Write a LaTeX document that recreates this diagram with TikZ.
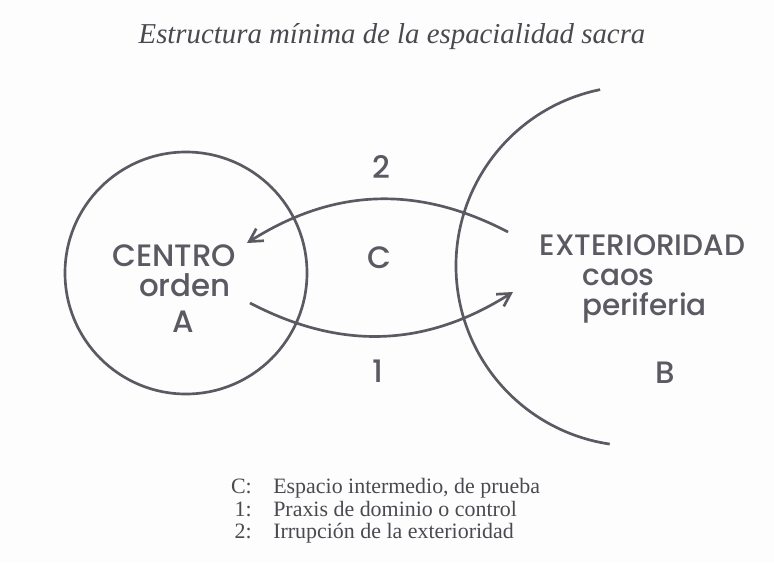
\documentclass[tikz,border=0pt]{standalone}
\usepackage{fontspec}
\setmainfont{Liberation Serif}
\setsansfont{Poppins}[UprightFont={* Medium}]
\usepackage{tikz}
\usetikzlibrary{arrows.meta, positioning, calc}
\definecolor{spInk}{HTML}{5B5962}
\definecolor{spText}{HTML}{4A4950}
\definecolor{spPaper}{HTML}{FDFDFD}

\begin{document}
\begin{tikzpicture}[
  font=\sffamily,
  every node/.style={text=spInk},
  lbl/.style={font=\sffamily\fontsize{22}{24}\selectfont, inner sep=0pt, anchor=base},
  lblsm/.style={font=\sffamily\fontsize{21}{22}\selectfont, inner sep=0pt, anchor=base},
  ring/.style={draw=spInk, line width=1.9pt, circle, inner sep=0pt, minimum size=6.05cm},
  flow/.style={draw=spInk, line width=1.9pt, -{Straight Barb[length=3.2mm, width=3.6mm]}},
  key/.style={text=spText, font=\rmfamily\fontsize{15.6}{17}\selectfont, inner sep=0pt, anchor=base east},
  keytxt/.style={text=spText, font=\rmfamily\fontsize{15.6}{17}\selectfont, inner sep=0pt, anchor=base west},
]
% ---------------- Marco ----------------
\fill[spPaper] (0,0) rectangle (19.35,14.075);
\useasboundingbox (0,0) rectangle (19.35,14.075);

% ---------------- Título ----------------
\node[inner sep=0pt, anchor=base, text=spText, font=\rmfamily\itshape\fontsize{20.5}{24}\selectfont] (titulo) at (9.8,12.975) {Estructura mínima de la espacialidad sacra};

% ---------------- Centro (A) ----------------
\node[ring] (centro) at (4.65,7.25) {};
\node[lbl] (tcentro) at (4.36,7.425) {CENTRO};
\node[lbl] (torden)  at (4.625,6.675) {orden};
\node[lbl] (ta)      at (4.59,5.775) {A};

% ---------------- Exterioridad (B) ----------------
\draw[spInk, line width=1.9pt] (15.9,7.425) ++(101.5:4.5) arc[start angle=101.5, end angle=261.6, radius=4.5];
\node[lblsm] (texter) at (16.06,7.7) {EXTERIORIDAD};
\node[lblsm, anchor=base west] (tcaos) at (14.55,6.95) {caos};
\node[lblsm, anchor=base west] (tperif) at (14.55,6.2) {periferia};
\node[lbl] (tb) at (16.625,4.5) {B};

% ---------------- Espacio intermedio ----------------
\node[lbl] (tc)  at (9.49,7.375) {C};
\node[lbl] (tdos) at (9.525,9.625) {2};
\node[lbl] (tuno) at (9.44,4.525) {1};

% ---------------- Flechas ----------------
\coordinate (irr0) at (12.7,8.275);
\coordinate (irr1) at (6.175,8.0);
\coordinate (pra0) at (6.25,6.5);
\coordinate (pra1) at (12.825,6.775);
\draw[flow] (irr0) to[bend right=30] (irr1);
\draw[flow] (pra0) to[bend right=30] (pra1);

% ---------------- Leyenda ----------------
\node[key] (k1) at (6.3,1.75) {C:};
\node[key] (k2) at (6.3,1.175) {1:};
\node[key] (k3) at (6.3,0.625) {2:};
\node[keytxt] (l1) at (6.825,1.75) {Espacio intermedio, de prueba};
\node[keytxt] (l2) at (6.825,1.175) {Praxis de dominio o control};
\node[keytxt] (l3) at (6.825,0.625) {Irrupción de la exterioridad};
\end{tikzpicture}
\end{document}
